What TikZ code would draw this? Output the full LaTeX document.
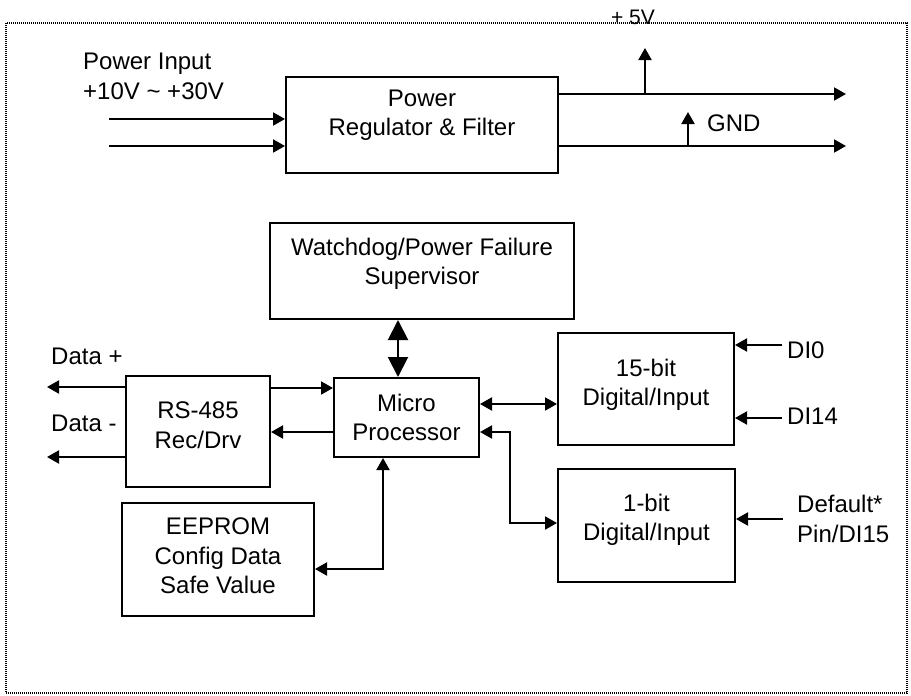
\documentclass[tikz,border=0pt]{standalone}
\usepackage{fontspec}
\setmainfont{Liberation Sans}
\usetikzlibrary{arrows.meta}
\tikzset{
	blk/.style={draw, line width=2pt, align=center, inner sep=0pt, font=\fontsize{24}{29.5}\selectfont},
	lbl/.style={inner sep=0pt, font=\fontsize{24}{29.5}\selectfont},
	arr/.style={line width=2pt, -{Triangle[length=12pt,width=13pt]}},
	dblarr/.style={line width=2pt, {Triangle[length=12pt,width=13pt]}-{Triangle[length=12pt,width=13pt]}},
	bigarr/.style={line width=2pt, {Triangle[length=20pt,width=20pt]}-{Triangle[length=20pt,width=20pt]}}
}

\begin{document}
\begin{tikzpicture}[x=1pt, y=-1pt]
			%%%%% START %%%%%
			
			\useasboundingbox (0, 0) rectangle (911, 696);
			\draw[line width=1.2pt, dash pattern=on 1pt off 1pt] (6, 23) rectangle (907, 693);
			
			\node[blk, minimum width=272pt, minimum height=96pt, text depth=25pt] (pwr) at (422, 125) {Power\\Regulator \& Filter};
			\node[blk, minimum width=304pt, minimum height=96pt, text depth=19pt] (wd) at (422, 271) {Watchdog/Power Failure\\Supervisor};
			\node[blk, minimum width=145pt, minimum height=79pt] (mcu) at (406.5, 417.5) {Micro\\Processor};
			\node[blk, minimum width=144pt, minimum height=111pt, text depth=13pt] (rs) at (198, 431.5) {RS-485\\Rec/Drv};
			\node[blk, minimum width=176pt, minimum height=112pt, text depth=13pt] (dib) at (646, 389) {15-bit\\Digital/Input};
			\node[blk, minimum width=177pt, minimum height=113pt, text depth=16pt] (dia) at (646.5, 525.5) {1-bit\\Digital/Input};
			\node[blk, minimum width=192pt, minimum height=113pt, text depth=7pt] (eep) at (218, 559.5) {EEPROM\\Config Data\\Safe Value};
			
			\node[lbl, anchor=base west] (pin) at (83, 69) {Power Input};
			\node[lbl, anchor=base west] (rng) at (83, 99) {+10V \textasciitilde{} +30V};
			\node[lbl, anchor=base, font=\fontsize{21}{24}\selectfont] (v5l) at (633, 24) {+ 5V};
			\node[lbl, anchor=base west] (gndl) at (707, 131) {GND};
			\node[lbl, anchor=base west] (dpl) at (51, 364) {Data +};
			\node[lbl, anchor=base west] (dml) at (51, 431) {Data -};
			\node[lbl, anchor=base west] (di0l) at (787, 358) {DI0};
			\node[lbl, anchor=base west] (di14l) at (787, 424) {DI14};
			\node[lbl, anchor=west, align=left] (dftl) at (797, 519) {Default*\\Pin/DI15};
			
			\coordinate (pin1) at (109, 119);
			\coordinate (pin2) at (109, 146);
			\coordinate (v5) at (846, 94);
			\coordinate (v5up) at (645, 48);
			\coordinate (gnd) at (846, 146);
			\coordinate (gndup) at (688, 112);
			\coordinate (wdx) at (398, 0);
			\coordinate (dp) at (47, 387);
			\coordinate (dm) at (47, 457);
			\coordinate (r1) at (0, 388);
			\coordinate (r2) at (0, 432);
			\coordinate (r3) at (0, 404);
			\coordinate (bend1) at (510, 523);
			\coordinate (bend2) at (383, 569);
			\coordinate (di0) at (782, 345);
			\coordinate (di14) at (782, 418);
			\coordinate (dft) at (783, 519);
			
			\draw[arr] (pin1) -- (pin1 -| pwr.west);
			\draw[arr] (pin2) -- (pin2 -| pwr.west);
			\draw[arr] (pwr.east |- v5) -- (v5);
			\draw[arr] (v5up |- v5) -- (v5up);
			\draw[arr] (pwr.east |- gnd) -- (gnd);
			\draw[arr] (gndup |- gnd) -- (gndup);
			
			\draw[bigarr] (wdx |- wd.south) -- (wdx |- mcu.north);
			
			\draw[arr] (rs.west |- dp) -- (dp);
			\draw[arr] (rs.west |- dm) -- (dm);
			\draw[arr] (rs.east |- r1) -- (mcu.west |- r1);
			\draw[arr] (mcu.west |- r2) -- (rs.east |- r2);
			
			\draw[dblarr] (mcu.east |- r3) -- (dib.west |- r3);
			\draw[dblarr] (mcu.east |- r2) -| (bend1) -- (dia.west |- bend1);
			\draw[dblarr] (bend2 |- mcu.south) |- (eep.east |- bend2);
			
			\draw[arr] (di0) -- (di0 -| dib.east);
			\draw[arr] (di14) -- (di14 -| dib.east);
			\draw[arr] (dft) -- (dft -| dia.east);
			
			%%%%% END %%%%%
\end{tikzpicture}
\end{document}
